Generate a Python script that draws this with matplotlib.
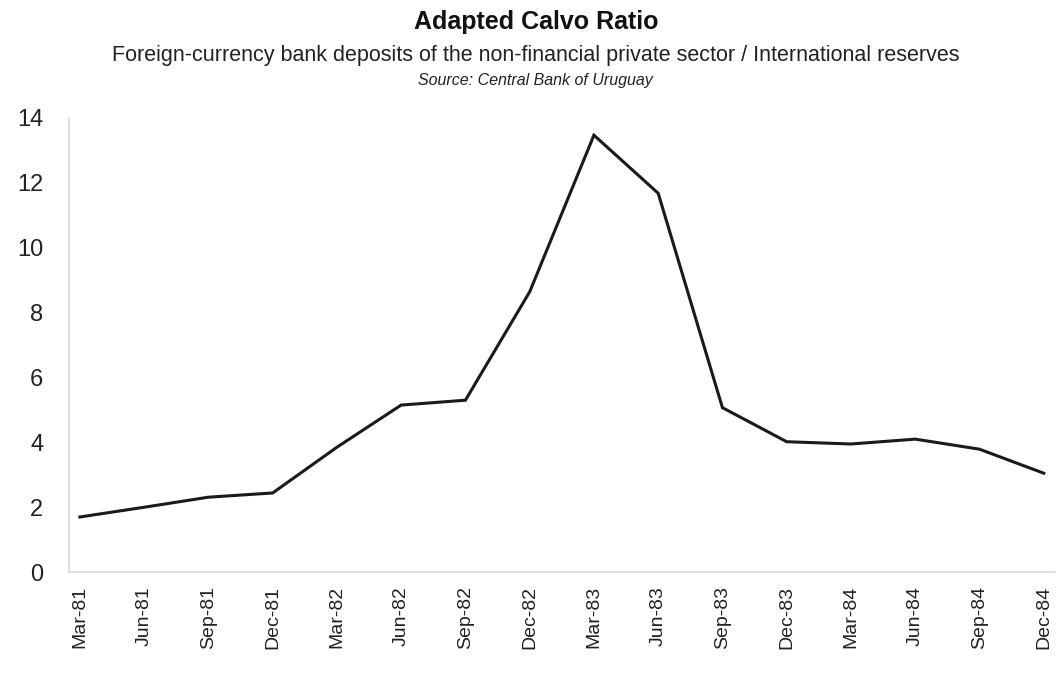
import matplotlib
matplotlib.use("Agg")
import matplotlib.pyplot as plt
import numpy as np

# Quarterly ratio, 1981-1984
quarters = ["Mar-81", "Jun-81", "Sep-81", "Dec-81",
            "Mar-82", "Jun-82", "Sep-82", "Dec-82",
            "Mar-83", "Jun-83", "Sep-83", "Dec-83",
            "Mar-84", "Jun-84", "Sep-84", "Dec-84"]
calvo_ratio = [1.70, 2.00, 2.31, 2.44,
               3.85, 5.15, 5.30, 8.64,
               13.47, 11.68, 5.07, 4.02,
               3.95, 4.10, 3.79, 3.05]
y_ticks = [0, 2, 4, 6, 8, 10, 12, 14]

plt.rcParams['font.family'] = ['Liberation Sans', 'DejaVu Sans']

fig = plt.figure(figsize=(10.61, 6.86), dpi=100)
ax = fig.add_axes([0.065, 0.166, 0.929, 0.662])

x = np.arange(len(quarters))
ax.plot(x, calvo_ratio, color='#1a1a1a', linewidth=2.2, solid_joinstyle='miter')

ax.set_xlim(-0.17, len(quarters) - 1 + 0.17)
ax.set_ylim(0, 14)
ax.set_yticks(y_ticks)
ax.set_xticks(x)
ax.set_xticklabels(quarters, rotation=90)

ax.tick_params(axis='y', length=0, pad=18.5, labelsize=17, labelcolor='#222222')
ax.tick_params(axis='x', length=0, pad=10, labelsize=14, labelcolor='#222222')

for side in ['top', 'right']:
    ax.spines[side].set_visible(False)
for side in ['left', 'bottom']:
    ax.spines[side].set_color('#d9d9d9')
    ax.spines[side].set_linewidth(1.2)

fig.text(0.505, 0.968, "Adapted Calvo Ratio", ha='center', va='center',
         fontsize=18, fontweight='bold', color='#111111')
fig.text(0.505, 0.919, "Foreign-currency bank deposits of the non-financial private sector / International reserves",
         ha='center', va='center', fontsize=15.5, color='#222222')
fig.text(0.505, 0.882, "Source: Central Bank of Uruguay", ha='center', va='center',
         fontsize=11.5, style='italic', color='#222222')

fig.savefig("out.png", dpi=100)
